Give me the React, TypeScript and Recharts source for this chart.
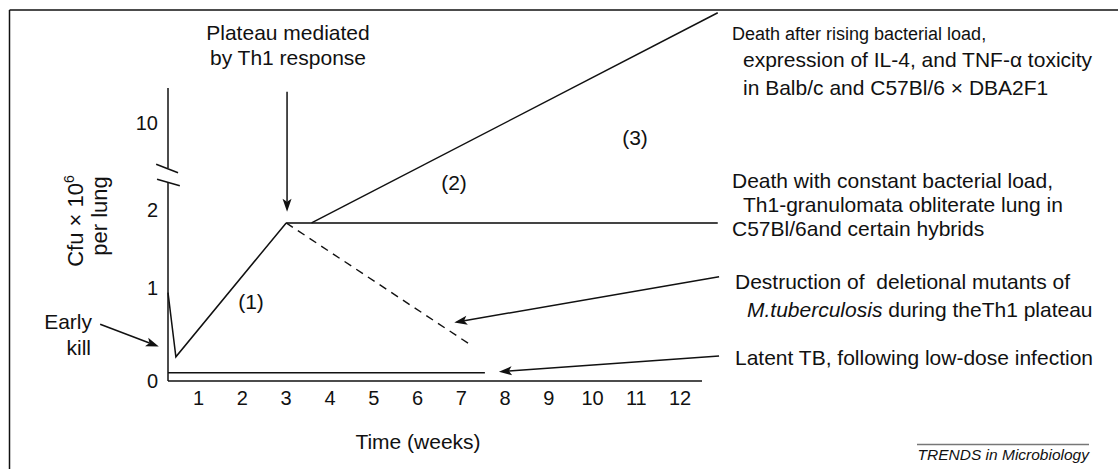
import { LineChart, Line, XAxis, YAxis, ReferenceLine } from "recharts";

const FONT = '"Liberation Sans", Arial, Helvetica, sans-serif';
const INK = "#111";

// x axis: weeks after infection
const weekTicks = [1, 2, 3, 4, 5, 6, 7, 8, 9, 10, 11, 12];
// y axis is broken, labels sit at these axis positions
const yTickPos = [0, 1, 1.84, 2.78];
const yTickLabels = ["0", "1", "2", "10"];

// (1) early kill then growth up to the plateau
const earlyWeeks = [0.3, 0.48, 3.0];
const earlyCfu = [0.95, 0.26, 1.7];
// Th1 plateau, constant load
const plateauWeeks = [3.0, 12.86];
const plateauCfu = [1.7, 1.7];
// (2) rising bacterial load
const risingWeeks = [3.58, 12.86];
const risingCfu = [1.7, 3.96];
// deletional mutants cleared (dashed)
const mutantWeeks = [3.0, 7.24];
const mutantCfu = [1.7, 0.38];
// latent TB after low-dose infection
const latentWeeks = [0.3, 7.54];
const latentCfu = [0.09, 0.09];

const toRows = (w: number[], v: number[]) => w.map((t, i) => ({ t, v: v[i] }));

const Arrow = (p: any) => {
  const { x1, y1, x2, y2 } = p;
  const dx = x2 - x1;
  const dy = y2 - y1;
  const len = Math.sqrt(dx * dx + dy * dy) || 1;
  const ux = dx / len;
  const uy = dy / len;
  const L = 13;
  const W = 4.5;
  const bx = x2 - ux * L;
  const by = y2 - uy * L;
  const nx = x2 - ux * (L - 3);
  const ny = y2 - uy * (L - 3);
  const pts = [
    [x2, y2],
    [bx - uy * W, by + ux * W],
    [nx, ny],
    [bx + uy * W, by - ux * W],
  ]
    .map((q) => q.join(","))
    .join(" ");
  return (
    <g>
      <line x1={x1} y1={y1} x2={nx} y2={ny} stroke={INK} strokeWidth={1.5} />
      <polygon points={pts} fill={INK} />
    </g>
  );
};

const Plain = (p: any) => (
  <line x1={p.x1} y1={p.y1} x2={p.x2} y2={p.y2} stroke={INK} strokeWidth={1.5} />
);

const T = ({ x, y, size = 21, anchor = "start", children, italic }: any) => (
  <text
    x={x}
    y={y}
    fontSize={size}
    fontFamily={FONT}
    fill={INK}
    textAnchor={anchor}
    fontStyle={italic ? "italic" : "normal"}
  >
    {children}
  </text>
);

export default function App() {
  return (
    <div style={{ position: "absolute", left: 0, top: 0, width: 1118, height: 469, background: "#fff" }}>
      <LineChart
        width={1118}
        height={469}
        margin={{ top: 9, right: 398.5, bottom: 58, left: 108 }}
        style={{ position: "absolute", left: 0, top: 0 }}
      >
        <XAxis
          type="number"
          dataKey="t"
          domain={[0.3, 12.9]}
          ticks={weekTicks}
          interval={0}
          axisLine={false}
          tickLine={false}
          tickMargin={4}
          height={30}
          tick={{ fontSize: 20, fill: INK, fontFamily: FONT }}
        />
        <YAxis
          type="number"
          domain={[0, 4]}
          ticks={yTickPos}
          interval={0}
          width={60}
          axisLine={false}
          tickLine={false}
          tickMargin={4}
          tickFormatter={(v: number) => yTickLabels[yTickPos.indexOf(v)]}
          tick={{ fontSize: 20, fill: INK, fontFamily: FONT }}
        />

        {/* axes drawn as segments so they stop where the original stops */}
        <ReferenceLine segment={[{ x: 0.3, y: 0 }, { x: 12.5, y: 0 }]} ifOverflow="visible" shape={Plain} />
        <ReferenceLine segment={[{ x: 0.3, y: 0 }, { x: 0.3, y: 2.14 }]} ifOverflow="visible" shape={Plain} />
        <ReferenceLine segment={[{ x: 0.3, y: 2.29 }, { x: 0.3, y: 3.15 }]} ifOverflow="visible" shape={Plain} />
        <ReferenceLine segment={[{ x: 0.03, y: 2.33 }, { x: 0.53, y: 2.24 }]} ifOverflow="visible" shape={Plain} />
        <ReferenceLine segment={[{ x: 0.05, y: 2.17 }, { x: 0.57, y: 2.1 }]} ifOverflow="visible" shape={Plain} />

        <Line data={toRows(earlyWeeks, earlyCfu)} dataKey="v" stroke={INK} strokeWidth={1.5} dot={false} isAnimationActive={false} />
        <Line data={toRows(plateauWeeks, plateauCfu)} dataKey="v" stroke="#444" strokeWidth={2} dot={false} isAnimationActive={false} />
        <Line data={toRows(risingWeeks, risingCfu)} dataKey="v" stroke={INK} strokeWidth={1.5} dot={false} isAnimationActive={false} />
        <Line data={toRows(mutantWeeks, mutantCfu)} dataKey="v" stroke={INK} strokeWidth={1.4} strokeDasharray="8 6" dot={false} isAnimationActive={false} />
        <Line data={toRows(latentWeeks, latentCfu)} dataKey="v" stroke={INK} strokeWidth={1.5} dot={false} isAnimationActive={false} />

        {/* annotation arrows */}
        <ReferenceLine segment={[{ x: 3.02, y: 3.11 }, { x: 3.02, y: 1.82 }]} ifOverflow="visible" shape={Arrow} />
        <ReferenceLine segment={[{ x: -1.25, y: 0.61 }, { x: 0.09, y: 0.37 }]} ifOverflow="visible" shape={Arrow} />
        <ReferenceLine segment={[{ x: 12.89, y: 1.12 }, { x: 6.84, y: 0.63 }]} ifOverflow="visible" shape={Arrow} />
        <ReferenceLine segment={[{ x: 12.89, y: 0.27 }, { x: 7.86, y: 0.1 }]} ifOverflow="visible" shape={Arrow} />
      </LineChart>

      <svg width={1118} height={469} style={{ position: "absolute", left: 0, top: 0, pointerEvents: "none" }}>
        <line x1={9.5} y1={10} x2={9.5} y2={469} stroke={INK} strokeWidth={1.5} />
        <line x1={9.5} y1={10} x2={1118} y2={10} stroke={INK} strokeWidth={1.5} />

        <T x={288} y={40} anchor="middle">Plateau mediated</T>
        <T x={288} y={65} anchor="middle">by Th1 response</T>

        <g transform="rotate(-90 83 221)">
          <text x={83} y={221} fontSize={22} fontFamily={FONT} fill={INK} textAnchor="middle">
            Cfu × 10<tspan fontSize={14} dy={-9}>6</tspan>
          </text>
        </g>
        <g transform="rotate(-90 106.5 216)">
          <text x={106.5} y={216} fontSize={22} fontFamily={FONT} fill={INK} textAnchor="middle">
            per lung
          </text>
        </g>

        <T x={92} y={329} anchor="end">Early</T>
        <T x={91} y={355} anchor="end">kill</T>

        <T x={251} y={309} anchor="middle">(1)</T>
        <T x={454} y={190} anchor="middle">(2)</T>
        <T x={635} y={145} anchor="middle">(3)</T>

        <T x={732} y={40} size={18}>Death after rising bacterial load,</T>
        <T x={743} y={67}>expression of IL-4, and TNF-α toxicity</T>
        <T x={743} y={95}>in Balb/c and C57Bl/6 × DBA2F1</T>

        <T x={732} y={188}>Death with constant bacterial load,</T>
        <T x={743} y={212}>Th1-granulomata obliterate lung in</T>
        <T x={732} y={236}>C57Bl/6and certain hybrids</T>

        <text x={735} y={289} fontSize={21} fontFamily={FONT} fill={INK} xmlSpace="preserve">
          {"Destruction of  deletional mutants of"}
        </text>
        <text x={747} y={317} fontSize={21} fontFamily={FONT} fill={INK}>
          <tspan fontStyle="italic">M.tuberculosis</tspan> during theTh1 plateau
        </text>
        <T x={735} y={365}>Latent TB, following low-dose infection</T>

        <T x={418} y={449} anchor="middle">Time (weeks)</T>

        <line x1={917} y1={444.5} x2={1089} y2={444.5} stroke="#777" strokeWidth={1.5} />
        <T x={1089} y={460} size={15.5} anchor="end" italic>
          TRENDS in Microbiology
        </T>
      </svg>
    </div>
  );
}
